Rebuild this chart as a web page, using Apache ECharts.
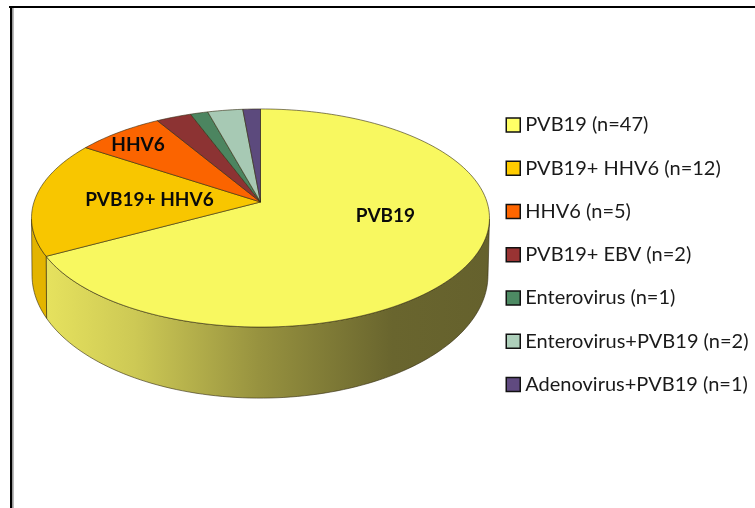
<!DOCTYPE html>
<html><head><meta charset="utf-8">
<style>html,body{margin:0;padding:0;background:#fff}#c{width:755px;height:508px}</style>
<script src="https://cdn.jsdelivr.net/npm/echarts@6/dist/echarts.min.js"></script>
</head><body><div id="c"></div>
<script>
const legendNames = ['PVB19 (n=47)','PVB19+ HHV6 (n=12)','HHV6 (n=5)','PVB19+ EBV (n=2)','Enterovirus (n=1)','Enterovirus+PVB19 (n=2)','Adenovirus+PVB19 (n=1)'];
const counts = [47,12,5,2,1,2,1];
const sliceLabels = ['PVB19','PVB19+ HHV6','HHV6','','','',''];
const topColors = ['#f8f860','#f8c600','#fb6400','#8c3333','#4c8560','#a7c9b4','#5c4a7d'];
const keyColors = ['#ffff66','#ffcc00','#ff6600','#993333','#4d8a63','#aed0bb','#604a80'];
const wallColors = [null,'#e3b400','#d05400','#702828','#3c6a4c','#86a090','#4a3c64'];

const total = counts.reduce((a,b)=>a+b,0);
const K = 0.1468;
const rimGeo = {cx:260.5, y0:202, A:226.5, B:106.7};
const baseGeo = {cx:260, y0:257, A:225.5, B:120.4};
const WALL_FROM = 99, WALL_TO = 261;
const labelSpots = [[385.5,216],[149.5,200],[138,145]];

function proj(g, deg){
  const t = deg*Math.PI/180, u = Math.sin(t), v = -Math.cos(t), w = 1-K*v;
  return [g.cx + g.A*u/w, g.y0 + g.B*v/w];
}
function arc(g, a, b){
  const pts = [], n = Math.max(2, Math.ceil((b-a)/1.5));
  for(let i=0;i<=n;i++) pts.push(proj(g, a+(b-a)*i/n));
  return pts;
}
const EDGE = 'rgba(50,42,15,0.75)';
function makeRender(index){
  return function(params, api){
    const before = counts.slice(0,index).reduce((a,b)=>a+b,0);
    const a0 = before/total*360, a1 = a0 + api.value(0)/total*360;
    const children = [];
    const w0 = Math.max(a0, WALL_FROM), w1 = Math.min(a1, WALL_TO);
    if(w1 > w0){
      const fill = index===0
        ? new echarts.graphic.LinearGradient(0,0,1,0,[
            {offset:0,color:'#e6e25e'},{offset:0.2,color:'#cdc955'},
            {offset:0.48,color:'#97923f'},{offset:0.78,color:'#69652e'},{offset:1,color:'#65612d'}])
        : wallColors[index];
      children.push({type:'polygon',
        shape:{points: arc(rimGeo,w0,w1).concat(arc(baseGeo,w0,w1).reverse())},
        style:{fill:fill, stroke:EDGE, lineWidth:0.8}});
    }
    children.push({type:'polygon',
      shape:{points:[[rimGeo.cx,rimGeo.y0]].concat(arc(rimGeo,a0,a1))},
      style:{fill:topColors[index], stroke:EDGE, lineWidth:0.8}});
    if(sliceLabels[index]){
      children.push({type:'text', x:labelSpots[index][0], y:labelSpots[index][1], z2:10,
        style:{text:sliceLabels[index], fill:'#0a0a0a', align:'center', verticalAlign:'middle',
          font:'bold 19px Lato'}});
    }
    return {type:'group', children};
  };
}
const chart = echarts.init(document.getElementById('c'), null, {renderer:'canvas'});
chart.setOption({
  animation:false,
  backgroundColor:'#fff',
  legend:{
    orient:'vertical', left:500.5, top:107.5, itemWidth:14, itemHeight:14, itemGap:18.25, selectedMode:false,
    icon:'rect', align:'left',
    textStyle:{fontFamily:'Lato', fontSize:20, color:'#1a1a1a', lineHeight:25},
    data: legendNames.map((n,i)=>({name:n, itemStyle:{color:keyColors[i], borderColor:'#111', borderWidth:1.5}}))
  },
  graphic:[
    {type:'rect', silent:true, shape:{x:9,y:6,width:746,height:2}, style:{fill:'#000'}},
    {type:'rect', silent:true, shape:{x:10,y:6,width:2.4,height:502}, style:{fill:'#000'}},
    {type:'rect', silent:true, shape:{x:13,y:8,width:1,height:500}, style:{fill:'#bbb'}}
  ],
  series: legendNames.map((n,i)=>({
    type:'custom', name:n, coordinateSystem:'none', silent:true,
    itemStyle:{color:keyColors[i]},
    data:[[counts[i]]],
    renderItem: makeRender(i)
  }))
});
</script></body></html>
